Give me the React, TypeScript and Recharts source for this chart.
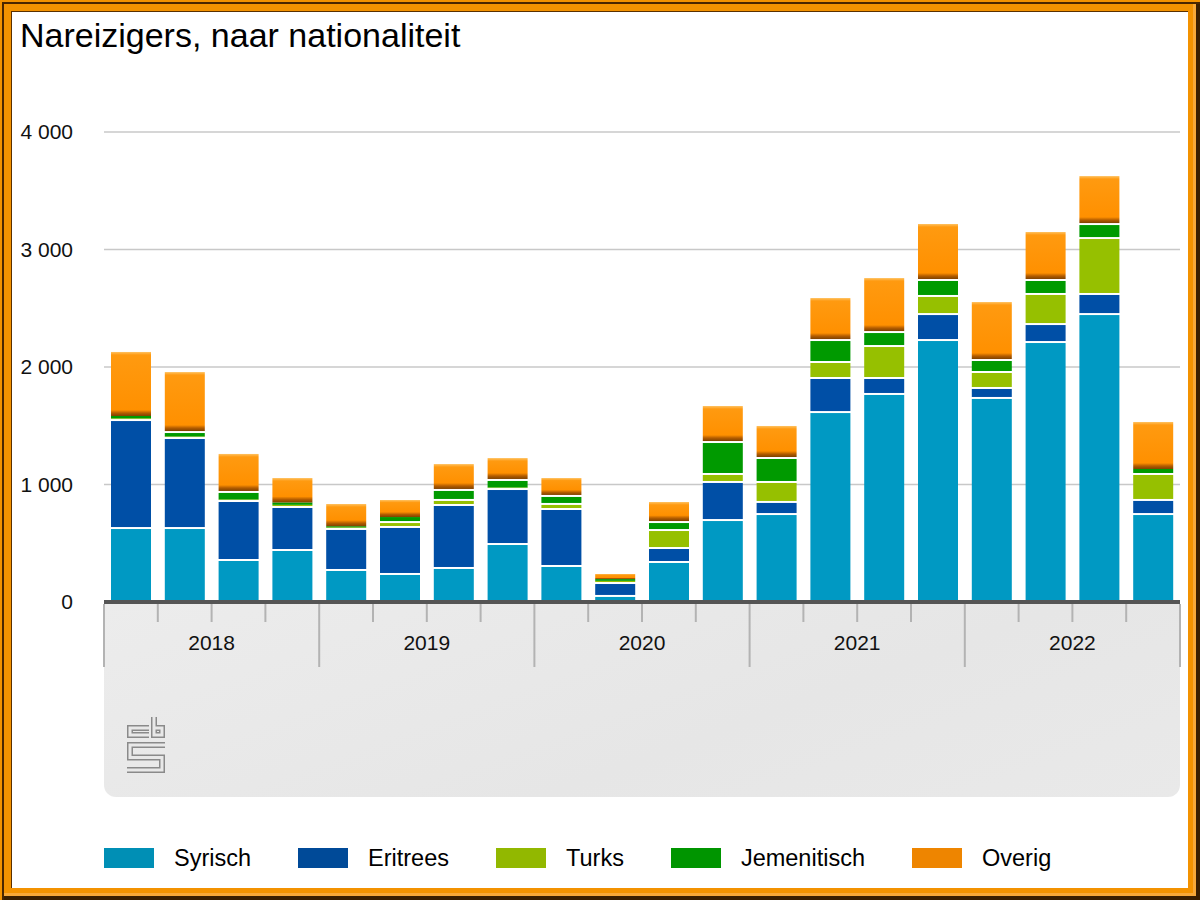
import React from "react";
import {
  BarChart,
  Bar,
  XAxis,
  YAxis,
  CartesianGrid,
} from "recharts";

const quarters = [
  "2018 K1", "2018 K2", "2018 K3", "2018 K4",
  "2019 K1", "2019 K2", "2019 K3", "2019 K4",
  "2020 K1", "2020 K2", "2020 K3", "2020 K4",
  "2021 K1", "2021 K2", "2021 K3", "2021 K4",
  "2022 K1", "2022 K2", "2022 K3", "2022 K4",
];
const years = ["2018", "2019", "2020", "2021", "2022"];

const syrisch = [638, 638, 366, 451, 281, 247, 298, 502, 315, 60, 349, 706, 757, 1625, 1779, 2238, 1745, 2221, 2459, 757];
const eritrees = [919, 766, 502, 366, 349, 400, 536, 468, 485, 110, 119, 324, 103, 290, 136, 221, 85, 153, 171, 120];
const turks = [6, 5, 5, 10, 5, 42, 43, 5, 43, 10, 153, 68, 170, 136, 272, 154, 136, 256, 476, 221];
const jemenitisch = [20, 46, 72, 20, 10, 34, 85, 72, 68, 15, 68, 272, 204, 187, 119, 136, 102, 119, 119, 34];
const overig = [545, 502, 315, 208, 189, 145, 212, 178, 144, 43, 162, 298, 264, 349, 451, 468, 485, 400, 400, 400];

const yTicks = [0, 1000, 2000, 3000, 4000];

const series = [
  { key: "Syrisch", bar: "#0099c3", legend: "#008fb5" },
  { key: "Eritrees", bar: "#004fa6", legend: "#004a98" },
  { key: "Turks", bar: "#96c000", legend: "#92b800" },
  { key: "Jemenitisch", bar: "#009a00", legend: "#009500" },
  { key: "Overig", bar: "#ff9300", legend: "#ee8500" },
];

const data = quarters.map((q, i) => ({
  kwartaal: q,
  Syrisch: syrisch[i],
  Eritrees: eritrees[i],
  Turks: turks[i],
  Jemenitisch: jemenitisch[i],
  Overig: overig[i],
}));

const FONT = '"Liberation Sans", Arial, sans-serif';
const PLOT_LEFT = 104;
const PLOT_RIGHT = 1180;
const AXIS_Y = 604;
const STEP = (PLOT_RIGHT - PLOT_LEFT) / quarters.length;

// flat segment with a white gap on top (separates it from the next segment)
function FlatBar(props: any) {
  const { x, y, width, height, fill } = props;
  if (!height || height <= 0) return null;
  const gap = height > 4 ? 2 : 0;
  return <rect x={x} y={y + gap} width={width} height={height - gap} fill={fill} />;
}

// top orange segment: glossy top, dark bottom edge
function OverigBar(props: any) {
  const { x, y, width, height, index } = props;
  if (!height || height <= 0) return null;
  const h = height;
  const id = `overig-grad-${index}`;
  const dark = Math.min(6, h * 0.3);
  const light = Math.min(3, h * 0.15);
  return (
    <g>
      <defs>
        <linearGradient id={id} gradientUnits="userSpaceOnUse" x1={0} y1={y} x2={0} y2={y + h}>
          <stop offset={0} stopColor="#ffc261" />
          <stop offset={light / h} stopColor="#ff9a10" />
          <stop offset={(h - dark) / h} stopColor="#ff9000" />
          <stop offset={(h - dark * 0.5) / h} stopColor="#b35c00" />
          <stop offset={1} stopColor="#7e4200" />
        </linearGradient>
      </defs>
      <rect x={x} y={y} width={width} height={h} fill={`url(#${id})`} />
    </g>
  );
}

function YTick(props: any) {
  const { y, payload } = props;
  const label = String(payload.value).replace(/\B(?=(\d{3})+(?!\d))/g, " ");
  return (
    <text x={73} y={y} dy="0.35em" textAnchor="end" fontSize={21} fontFamily={FONT} fill="#111">
      {label}
    </text>
  );
}

function XTick(props: any) {
  const { x, index } = props;
  const left = x - STEP / 2;
  const yearStart = index % 4 === 0;
  return (
    <g>
      <line
        x1={left}
        x2={left}
        y1={AXIS_Y}
        y2={yearStart ? 667 : 622}
        stroke="#b3b3b3"
        strokeWidth={2}
      />
      {index === quarters.length - 1 && (
        <line x1={x + STEP / 2} x2={x + STEP / 2} y1={AXIS_Y} y2={667} stroke="#b3b3b3" strokeWidth={2} />
      )}
      {index % 4 === 1 && (
        <text
          x={x + STEP / 2}
          y={643}
          dy="0.35em"
          textAnchor="middle"
          fontSize={21}
          fontFamily={FONT}
          fill="#111"
        >
          {years[Math.floor(index / 4)]}
        </text>
      )}
    </g>
  );
}

function CbsLogo() {
  const paths = [
    "M149 728 H130 V735 H149",
    "M154 717 V735 H162 V728 H154",
    "M165 745 H130 V757.5 H162 V770 H127",
  ];
  return (
    <svg width={1200} height={900} style={{ position: "absolute", left: 0, top: 0 }}>
      {paths.map((d) => (
        <path key={d + "o"} d={d} fill="none" stroke="#8a8a8a" strokeWidth={6} />
      ))}
      {paths.map((d) => (
        <path key={d + "i"} d={d} fill="none" stroke="#e8e8e8" strokeWidth={3} />
      ))}
    </svg>
  );
}

export default function App() {
  return (
    <div
      style={{
        position: "absolute",
        left: 0,
        top: 0,
        width: 1200,
        height: 900,
        background: "#f39200",
        boxShadow:
          "inset 2px 2px 0 #f39200, inset 4px 4px 0 #4a2600, inset -4px -4px 0 #3a1e00, inset -7px -7px 0 #f8a838",
        fontFamily: FONT,
      }}
    >
      <div
        style={{
          position: "absolute",
          left: 11,
          top: 11,
          width: 1177,
          height: 877,
          background: "#fff",
          border: "1px solid #5a3000",
          borderRight: "none",
          borderBottom: "none",
          boxSizing: "border-box",
        }}
      />
      <div
        style={{
          position: "absolute",
          left: 20,
          top: 18,
          fontSize: 34,
          lineHeight: "34px",
          color: "#000",
          whiteSpace: "nowrap",
        }}
      >
        Nareizigers, naar nationaliteit
      </div>
      <div
        style={{
          position: "absolute",
          left: PLOT_LEFT,
          top: AXIS_Y,
          width: PLOT_RIGHT - PLOT_LEFT,
          height: 193,
          background: "linear-gradient(160deg, #ececec 0%, #e6e6e6 60%, #e9e9e9 100%)",
          borderBottomLeftRadius: 12,
          borderBottomRightRadius: 12,
        }}
      />
      <CbsLogo />
      <div style={{ position: "absolute", left: 0, top: 0 }}>
        <BarChart
          width={1200}
          height={900}
          data={data}
          margin={{ top: 132, right: 20, bottom: 0, left: 0 }}
          barSize={40}
        >
          <CartesianGrid vertical={false} stroke="#c8c8c8" strokeWidth={1.5} />
          <YAxis
            width={104}
            domain={[0, 4000]}
            ticks={yTicks}
            axisLine={false}
            tickLine={false}
            tick={<YTick />}
          />
          {series.map((s) => (
            <Bar
              key={s.key}
              dataKey={s.key}
              stackId="a"
              fill={s.bar}
              isAnimationActive={false}
              shape={s.key === "Overig" ? <OverigBar /> : <FlatBar />}
            />
          ))}
          <XAxis
            dataKey="kwartaal"
            height={298}
            interval={0}
            axisLine={{ stroke: "#555555", strokeWidth: 4 }}
            tickLine={false}
            tick={<XTick />}
          />
        </BarChart>
      </div>
      <div
        style={{
          position: "absolute",
          left: PLOT_LEFT,
          top: 846,
          height: 24,
          display: "flex",
          alignItems: "center",
          fontSize: 23.5,
          color: "#000",
        }}
      >
        {series.map((s) => (
          <div key={s.key} style={{ display: "flex", alignItems: "center", marginRight: 47 }}>
            <div style={{ width: 50, height: 20, background: s.legend, marginRight: 20 }} />
            <span style={{ lineHeight: "24px", whiteSpace: "nowrap" }}>{s.key}</span>
          </div>
        ))}
      </div>
    </div>
  );
}
